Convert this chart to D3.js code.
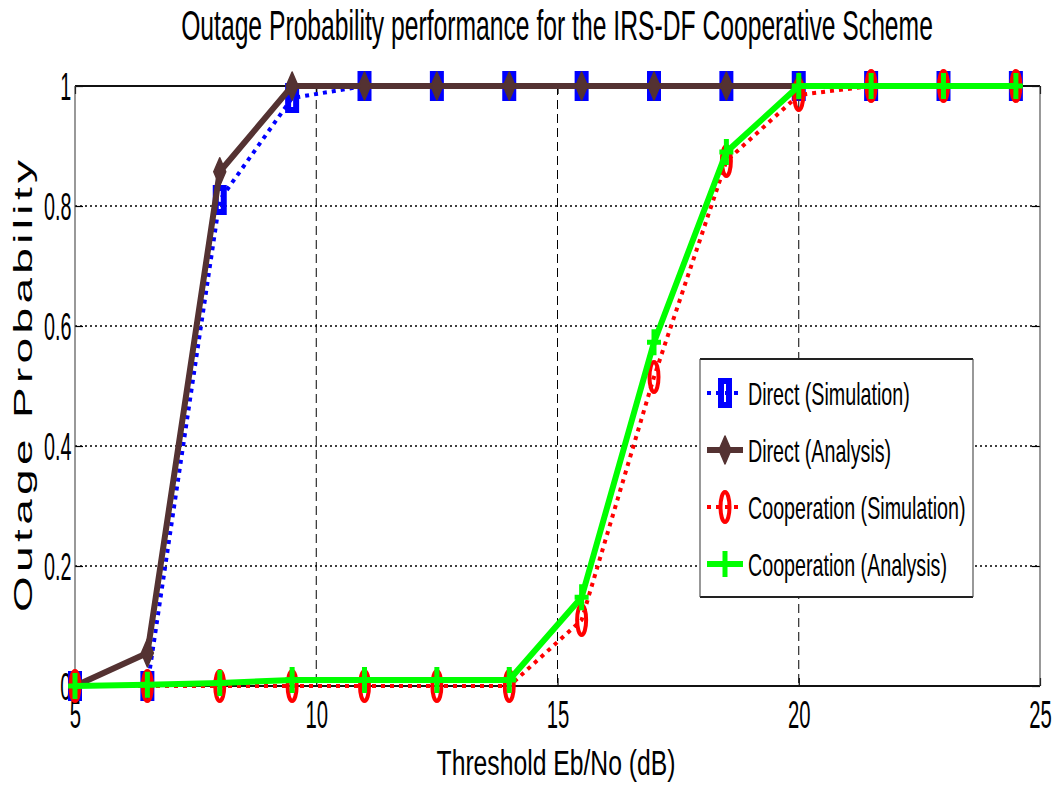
<!DOCTYPE html>
<html>
<head>
<meta charset="utf-8">
<script src="https://cdn.jsdelivr.net/npm/d3@7"></script>
<style>
  html, body { margin: 0; padding: 0; background: #fff; }
  svg { display: block; font-family: "Liberation Sans", Arial, Helvetica, sans-serif; }
</style>
</head>
<body>
<svg id="chart" width="1060" height="801"></svg>
<script>
// Threshold Eb/No sample points (dB)
const ebno = [5, 6.5, 8, 9.5, 11, 12.5, 14, 15.5, 17, 18.5, 20, 21.5, 23, 24.5];

// Outage probability per scheme
const directSim = [0, 0, 0.81, 0.98, 1, 1, 1, 1, 1, 1, 1, 1, 1, 1];
const directAna = [0, 0.055, 0.857, 1, 1, 1, 1, 1, 1, 1, 1, 1, 1, 1];
const coopSim   = [0, 0, 0, 0, 0, 0, 0, 0.11, 0.515, 0.875, 0.985, 1, 1, 1];
const coopAna   = [0, 0.002, 0.005, 0.01, 0.01, 0.01, 0.01, 0.148, 0.573, 0.89, 1, 1, 1, 1];

const seriesNames = ["Direct (Simulation)", "Direct (Analysis)", "Cooperation (Simulation)", "Cooperation (Analysis)"];
const xTicks = [5, 10, 15, 20, 25];
const yTicks = [0, 0.2, 0.4, 0.6, 0.8, 1];

const titleText = "Outage Probability performance for the IRS-DF Cooperative Scheme";
const xLabel = "Threshold Eb/No (dB)";
const yLabel = "Outage Probability";

const svg = d3.select("#chart");
const plotL = 75, plotR = 1040, plotT = 86, plotB = 686;

const x = d3.scaleLinear().domain([5, 25]).range([plotL, plotR]);
const y = d3.scaleLinear().domain([0, 1]).range([plotB, plotT]);

// Narrow text: drawn at full size, then squeezed horizontally to a target width
function narrowText(parent, str, cx, baseline, size, width) {
  const t = parent.append("text").attr("font-size", size).attr("fill", "#000")
    .attr("text-anchor", "middle").text(str);
  const natural = t.node().getComputedTextLength();
  t.attr("transform", `translate(${cx},${baseline}) scale(${width / natural},1)`);
  return t;
}

// Marker shapes (tall and narrow)
const markers = {
  square: g => g.append("rect").attr("x", -4).attr("y", -12).attr("width", 8).attr("height", 24)
                .attr("fill", "none").attr("stroke", "#0000ff").attr("stroke-width", 6),
  diamond: g => g.append("path").attr("d", "M0,-14 L6,0 L0,14 L-6,0 Z").attr("fill", "#543232")
                .attr("stroke", "#543232").attr("stroke-width", 1.5).attr("stroke-linejoin", "round"),
  circle: g => g.append("ellipse").attr("rx", 4.5).attr("ry", 15).attr("fill", "none")
                .attr("stroke", "#ff0000").attr("stroke-width", 4),
  plus: g => g.append("path").attr("d", "M0,-13 V13 M-7,0 H7").attr("fill", "none")
                .attr("stroke", "#00ff00").attr("stroke-width", 5)
};

const series = [
  { name: seriesNames[0], values: directSim, color: "#0000ff", width: 4, dash: "4,5", marker: "square" },
  { name: seriesNames[1], values: directAna, color: "#543232", width: 6, dash: null, marker: "diamond" },
  { name: seriesNames[2], values: coopSim,   color: "#ff0000", width: 4, dash: "4,5", marker: "circle" },
  { name: seriesNames[3], values: coopAna,   color: "#00ff00", width: 6, dash: null, marker: "plus" }
];

// Grid
const grid = svg.append("g");
grid.selectAll("line.vg").data(xTicks.filter(t => t > 5 && t < 25)).join("line")
  .attr("x1", d => x(d)).attr("x2", d => x(d)).attr("y1", plotT).attr("y2", plotB)
  .attr("stroke", "#000").attr("stroke-width", 1).attr("stroke-dasharray", "9,5");
grid.selectAll("line.hg").data(yTicks.filter(t => t > 0 && t < 1)).join("line")
  .attr("x1", plotL).attr("x2", plotR).attr("y1", d => y(d)).attr("y2", d => y(d))
  .attr("stroke", "#000").attr("stroke-width", 1.6).attr("stroke-dasharray", "2,3");

// Axes with inward ticks
const xAxis = svg.append("g").attr("transform", `translate(0,${plotB})`)
  .call(d3.axisBottom(x).tickValues(xTicks).tickSize(-8).tickSizeOuter(0).tickFormat(d3.format("d")));
const yAxis = svg.append("g").attr("transform", `translate(${plotL},0)`)
  .call(d3.axisLeft(y).tickValues(yTicks).tickSize(-8).tickSizeOuter(0).tickFormat(d => d === 0 || d === 1 ? d3.format("d")(d) : d3.format(".1f")(d)));
svg.append("g").attr("transform", `translate(0,${plotT})`)
  .call(d3.axisTop(x).tickValues(xTicks).tickSize(-8).tickSizeOuter(0).tickFormat(""));
svg.append("g").attr("transform", `translate(${plotR},0)`)
  .call(d3.axisRight(y).tickValues(yTicks).tickSize(-8).tickSizeOuter(0).tickFormat(""));

svg.selectAll(".domain").remove();
svg.selectAll(".tick line").attr("stroke", "#000").attr("stroke-width", 1.2);

xAxis.selectAll(".tick text")
  .attr("y", 14).attr("dy", "0.71em")
  .attr("font-size", 39).attr("fill", "#000")
  .attr("font-family", "'Liberation Sans', Arial, sans-serif")
  .attr("transform", "scale(0.52,1)");
yAxis.selectAll(".tick text")
  .attr("x", -7).attr("dy", "0.35em")
  .attr("font-size", 38).attr("fill", "#000")
  .attr("font-family", "'Liberation Sans', Arial, sans-serif")
  .attr("transform", "scale(0.52,1)");

// Frame
const frame = svg.append("g").attr("stroke", "#111");
frame.append("line").attr("x1", plotL).attr("x2", plotR).attr("y1", plotT).attr("y2", plotT).attr("stroke-width", 1.8);
frame.append("line").attr("x1", plotL).attr("x2", plotR).attr("y1", plotB).attr("y2", plotB).attr("stroke-width", 1.8);
frame.append("line").attr("x1", plotL).attr("x2", plotL).attr("y1", plotT).attr("y2", plotB).attr("stroke-width", 1.1).attr("stroke", "#444");
frame.append("line").attr("x1", plotR).attr("x2", plotR).attr("y1", plotT).attr("y2", plotB).attr("stroke-width", 1.1).attr("stroke", "#444");

// Series lines and markers
const line = d3.line().x((d, i) => x(ebno[i])).y(d => y(d));
series.forEach(s => {
  const g = svg.append("g");
  g.append("path").attr("d", line(s.values)).attr("fill", "none")
    .attr("stroke", s.color).attr("stroke-width", s.width)
    .attr("stroke-dasharray", s.dash).attr("stroke-linejoin", "round");
  s.values.forEach((v, i) => {
    const m = g.append("g").attr("transform", `translate(${x(ebno[i])},${y(v)})`);
    markers[s.marker](m);
  });
});

// Title and axis labels
narrowText(svg, titleText, 557, 40, 42, 752);
narrowText(svg, xLabel, 556, 775, 36, 239);
svg.append("text").attr("transform", "translate(32,386) scale(0.58,1) rotate(-90)")
  .attr("x", -226).attr("y", 0)
  .attr("font-size", 46).attr("fill", "#000")
  .attr("textLength", 452).attr("lengthAdjust", "spacing")
  .text(yLabel);

// Legend
const legend = svg.append("g");
legend.append("rect").attr("x", 700).attr("y", 359).attr("width", 273).attr("height", 238)
  .attr("fill", "#fff").attr("stroke", "none");
legend.append("line").attr("x1", 700).attr("x2", 973).attr("y1", 359).attr("y2", 359).attr("stroke", "#222").attr("stroke-width", 1.8);
legend.append("line").attr("x1", 700).attr("x2", 973).attr("y1", 597).attr("y2", 597).attr("stroke", "#222").attr("stroke-width", 1.8);
legend.append("line").attr("x1", 700).attr("x2", 700).attr("y1", 359).attr("y2", 597).attr("stroke", "#444").attr("stroke-width", 1.1);
legend.append("line").attr("x1", 973).attr("x2", 973).attr("y1", 359).attr("y2", 597).attr("stroke", "#444").attr("stroke-width", 1.1);

const legendY = d3.scalePoint().domain(seriesNames).range([393, 564]);
series.forEach(s => {
  const cy = legendY(s.name);
  const g = legend.append("g");
  g.append("line").attr("x1", 707).attr("x2", 743).attr("y1", cy).attr("y2", cy)
    .attr("stroke", s.color).attr("stroke-width", s.width).attr("stroke-dasharray", s.dash);
  markers[s.marker](g.append("g").attr("transform", `translate(725,${cy})`));
  g.append("text").attr("transform", `translate(748,${cy + 12}) scale(0.615,1)`)
    .attr("font-size", 32).attr("fill", "#000").text(s.name);
});
</script>
</body>
</html>
